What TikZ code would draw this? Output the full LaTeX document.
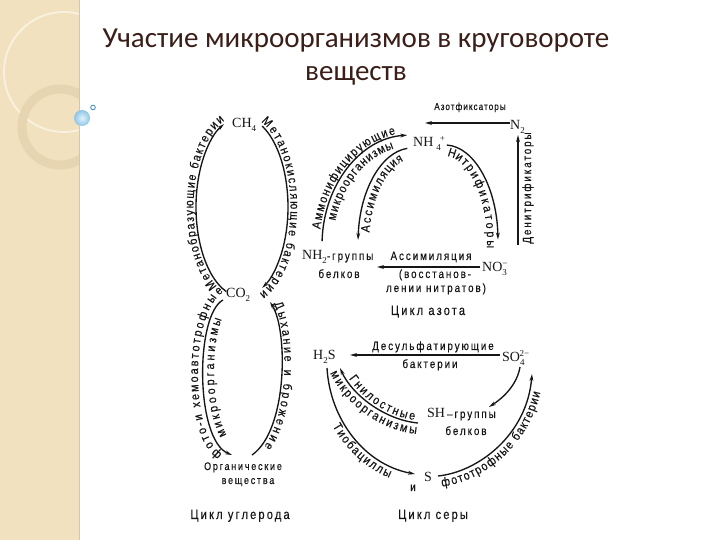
\documentclass[tikz,border=0pt]{standalone}
\usepackage{fontspec}
\setmainfont{Liberation Sans}
\newfontfamily\titlefont{Carlito}
\newfontfamily\labfont[FakeStretch=0.82,LetterSpace=16,FakeBold=0.3]{Liberation Sans}
\newfontfamily\labsmall[FakeStretch=0.82,LetterSpace=10,FakeBold=0.3]{Liberation Sans}
\newfontfamily\arcfont[FakeStretch=0.86,FakeBold=0.3]{Liberation Sans}
\newfontfamily\chemfont{Liberation Serif}
\usetikzlibrary{arrows.meta,decorations.text,calc}
\definecolor{ink}{HTML}{161616}
\definecolor{titlecol}{HTML}{3B1E17}
\definecolor{stripbg}{HTML}{F1E1BE}
\definecolor{stripline}{HTML}{FAF2E0}
\definecolor{stripring}{HTML}{E6D5B0}
\definecolor{stripedge}{HTML}{D9C7A0}
\definecolor{dotin}{HTML}{E2F3FB}
\definecolor{dotout}{HTML}{8EC5E6}
\definecolor{ringcol}{HTML}{4F94C4}
\newcommand\fA{\labfont\fontsize{12}{14}\selectfont}
\newcommand\fO{\labfont\fontsize{11}{13}\selectfont}
\newcommand\fS{\labsmall\fontsize{10}{12}\selectfont}
\newcommand\fT{\labfont\fontsize{13.5}{16}\selectfont}
\newcommand\fB{\arcfont\fontsize{12.5}{14}\selectfont}
\newcommand\fC{\chemfont\fontsize{14}{14}\selectfont}
\newcommand\csub[1]{\raisebox{-3.5pt}{\fontsize{9}{9}\selectfont #1}}
\newcommand\csup[1]{\raisebox{5.5pt}{\fontsize{9}{9}\selectfont #1}}
\begin{document}
\begin{tikzpicture}[x=1pt,y=1pt,
  flow/.style={draw=ink,line width=1.35pt,-{Stealth[length=7pt,width=3.8pt]}},
  lbl/.style={inner sep=0pt,text=ink},
  chem/.style={inner sep=0pt,text=ink,font=\fC,anchor=base west}]
\useasboundingbox (0,0) rectangle (720,540);
\fill[white] (0,0) rectangle (720,540);
\begin{scope}[shift={(0,540)}]
% decorative strip
\begin{scope}
 \clip (0,0) rectangle (79,-540);
 \fill[stripbg] (0,0) rectangle (79,-540);
 \draw[stripline,line width=1.8pt] (64,-72) circle (60);
 \draw[stripring,line width=9pt] (60,-127) circle (38);
\end{scope}
\draw[stripedge,line width=0.6pt] (79,0) -- (79,-540);
\shade[inner color=dotin,outer color=dotout] (82,-118) circle (8);
\draw[ringcol,line width=0.9pt] (93,-107.5) circle (2.3);
% title
\node[lbl,text=titlecol,font=\titlefont\fontsize{29}{31}\selectfont,anchor=base] (title1) at (356,-48) {Участие микроорганизмов в круговороте};
\node[lbl,text=titlecol,font=\titlefont\fontsize{29}{31}\selectfont,anchor=base] (title2) at (356,-81) {веществ};

% ===== carbon cycle =====
\node[chem] (ch4) at (232,-128) {CH\csub{4}};
\node[chem] (co2) at (226,-298) {CO\csub{2}};
\node[lbl,font=\fO,anchor=base] (org1) at (243,-470) {Органические};
\node[lbl,font=\fO,anchor=base] (org2) at (248,-484) {вещества};
\node[lbl,font=\fT,anchor=base] (cc) at (240,-519) {Цикл углерода};
\coordinate (e1) at (242,-207);
\coordinate (u1s) at ($(e1)+(250:46 and 90)$);
\coordinate (u2s) at ($(e1)+(64:46 and 90)$);
\draw[flow] (u1s) arc[start angle=250,end angle=113,x radius=46,y radius=90];
\draw[flow] (u2s) arc[start angle=64,end angle=-64,x radius=46,y radius=90];
\path[decorate,decoration={text along path,text color=ink,text align=fit to path,raise=2.5pt,
  text={|\fB|Метанобразующие бактерии}}]
  ($(e1)+(240:46 and 90)$) arc[start angle=240,end angle=110,x radius=46,y radius=90];
\path[decorate,decoration={text along path,text color=ink,text align=fit to path,raise=2.5pt,
  text={|\fB|Метанокисляющие бактерии}}]
  ($(e1)+(68:46 and 90)$) arc[start angle=68,end angle=-70,x radius=46,y radius=90];
\coordinate (l1s) at (223,-300);
\coordinate (l1e) at (232,-455);
\coordinate (l2s) at (252,-455);
\coordinate (l2e) at (270,-302);
\draw[flow] (l1s) .. controls (195,-315) and (195,-440) .. (l1e);
\draw[flow] (l2s) .. controls (288,-430) and (288,-330) .. (l2e);
\path[decorate,decoration={text along path,text color=ink,text align=fit to path,raise=2.5pt,
  text={|\fB|фото-и хемоавтотрофные}}]
  (224,-452) .. controls (193,-435) and (192,-314) .. (225,-294);
\path[decorate,decoration={text along path,text color=ink,text align={fit to path,left indent=22pt,right indent=20pt},raise=-11pt,
  text={|\fB|микроорганизмы}}]
  (l1e) .. controls (195,-440) and (195,-315) .. (l1s);
\path[decorate,decoration={text along path,text color=ink,text align={fit to path,left indent=3pt,right indent=14pt},raise=2.5pt,
  text={|\fB|Дыхание и брожение}}]
  (l2e) .. controls (288,-330) and (288,-430) .. (l2s);

% ===== nitrogen cycle =====
\node[chem] (nh4) at (413,-147) {NH\hspace{3pt}\csub{4}\kern-1pt\csup{+}};
\node[chem] (n2) at (510,-130) {N\csub{2}};
\node[chem] (no3) at (482,-272) {NO\csub{3}\kern-4.5pt\csup{−}};
\node[lbl,anchor=base west] (nh2) at (302,-260) {{\fC NH\csub{2}}{\fA -группы}};
\node[lbl,font=\fA,anchor=base] (bel1) at (339,-278) {белков};
\node[lbl,font=\fS,anchor=base] (azf) at (470,-110) {Азотфиксаторы};
\node[lbl,font=\fA,rotate=90] (den) at (528,-188) {Денитрификаторы};
\node[lbl,font=\fA,anchor=base] (asm) at (431,-260) {Ассимиляция};
\node[lbl,font=\fA,anchor=base] (vos) at (435,-278) {(восстанов-};
\node[lbl,font=\fA,anchor=base] (len) at (436,-292) {лении нитратов)};
\node[lbl,font=\fT,anchor=base] (cn) at (428,-315) {Цикл азота};
\coordinate (a1s) at (510,-123);
\coordinate (a1e) at (425,-123);
\draw[flow] (a1s) -- (a1e);
\coordinate (d1s) at (518,-245);
\coordinate (d1e) at (518,-135);
\draw[flow] (d1s) -- (d1e);
\coordinate (as1) at (480,-267);
\coordinate (as2) at (377,-267);
\draw[flow] (as1) -- (as2);
\coordinate (e2) at (412,-245);
\coordinate (o1s) at ($(e2)+(178:90 and 110)$);
\coordinate (i1s) at ($(e2)+(95:54 and 97)$);
\draw[flow] (o1s) arc[start angle=178,end angle=93,x radius=90,y radius=110];
\draw[flow] (i1s) arc[start angle=95,end angle=177,x radius=54,y radius=97];
\path[decorate,decoration={text along path,text color=ink,text align=fit to path,raise=2.5pt,
  text={|\fB|Аммонифицирующие}}]
  ($(e2)+(172:90 and 110)$) arc[start angle=172,end angle=100,x radius=90,y radius=110];
\path[decorate,decoration={text along path,text color=ink,text align=fit to path,raise=-11pt,
  text={|\fB|микроорганизмы}}]
  ($(e2)+(166:90 and 110)$) arc[start angle=166,end angle=104,x radius=90,y radius=110];
\path[decorate,decoration={text along path,text color=ink,text align=fit to path,raise=-11pt,
  text={|\fB|Ассимиляция}}]
  ($(e2)+(172:54 and 97)$) arc[start angle=172,end angle=105,x radius=54,y radius=97];
\coordinate (e3) at (445,-243);
\coordinate (n1s) at ($(e3)+(88:53 and 98)$);
\draw[flow] (n1s) arc[start angle=88,end angle=2,x radius=53,y radius=98];
\path[decorate,decoration={text along path,text color=ink,text align=fit to path,raise=-11pt,
  text={|\fB|Нитрификаторы}}]
  ($(e3)+(84:53 and 98)$) arc[start angle=84,end angle=-3,x radius=53,y radius=98];

% ===== sulfur cycle =====
\node[chem] (h2s) at (313,-360) {H\csub{2}S};
\node[chem] (so4) at (502,-362) {SO\csub{4}\kern-5pt\csup{2−}};
\node[lbl,anchor=base west] (sh) at (427,-418) {{\fC SH}{\fA\,–группы}};
\node[lbl,font=\fA,anchor=base] (bel2) at (466,-435) {белков};
\node[chem] (s) at (424,-482) {S};
\node[lbl,font=\fA,anchor=base] (and) at (413,-491) {и};
\node[lbl,font=\fA,anchor=base] (dsf) at (433,-350) {Десульфатирующие};
\node[lbl,font=\fA,anchor=base] (bak) at (430,-368) {бактерии};
\node[lbl,font=\fT,anchor=base] (cs) at (433,-519) {Цикл серы};
\coordinate (ds1) at (500,-355);
\coordinate (ds2) at (350,-355);
\draw[flow] (ds1) -- (ds2);
\coordinate (ss1) at (520,-367);
\coordinate (ss2) at (489,-407);
\draw[flow] (ss1) .. controls (517,-385) and (503,-398) .. (ss2);
\coordinate (g1) at (418,-423);
\coordinate (g2) at (340,-368);
\draw[flow] (g1) .. controls (385,-420) and (352,-395) .. (g2);
\path[decorate,decoration={text along path,text color=ink,text align={fit to path,left indent=14pt,right indent=4pt},raise=2.5pt,
  text={|\fB|Гнилостные}}]
  (g2) .. controls (352,-395) and (385,-420) .. (g1);
\path[decorate,decoration={text along path,text color=ink,text align=fit to path,raise=-11pt,
  text={|\fB|микроорганизмы}}]
  (g2) .. controls (352,-395) and (385,-420) .. (g1);
\coordinate (t1) at (327,-368);
\coordinate (t2) at (415,-474);
\draw[flow] (t1) .. controls (330,-420) and (365,-465) .. (t2);
\path[decorate,decoration={text along path,text color=ink,text align={fit to path,left indent=55pt,right indent=22pt},raise=-11pt,
  text={|\fB|Тиобациллы}}]
  (t1) .. controls (330,-420) and (365,-465) .. (t2);
\coordinate (f1) at (438,-476);
\coordinate (f2) at (532,-374);
\draw[flow] (f1) .. controls (478,-472) and (527,-435) .. (f2);
\path[decorate,decoration={text along path,text color=ink,text align={fit to path,left indent=2pt,right indent=16pt},raise=-11pt,
  text={|\fB|фототрофные бактерии}}]
  (f1) .. controls (478,-472) and (527,-435) .. (f2);
\end{scope}
\end{tikzpicture}
\end{document}
